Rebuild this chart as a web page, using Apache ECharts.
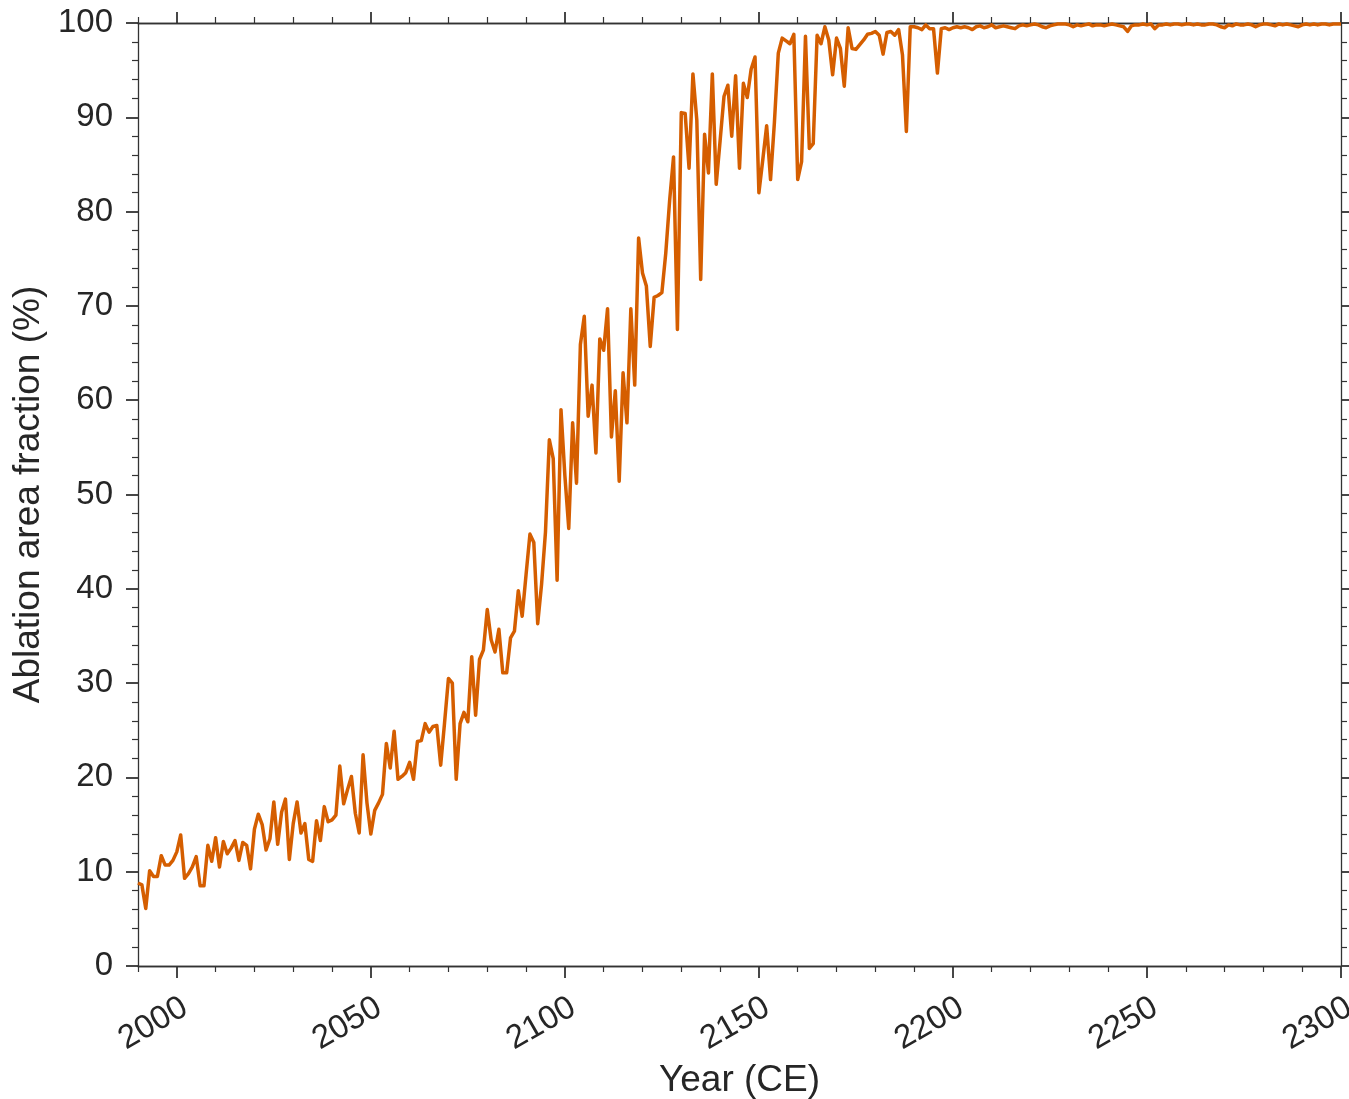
<!DOCTYPE html>
<html>
<head>
<meta charset="utf-8">
<script src="https://cdn.jsdelivr.net/npm/echarts@6/dist/echarts.min.js"></script>
<style>
html,body{margin:0;padding:0;background:#fff;overflow:hidden;}
#chart{width:1349px;height:1099px;}
</style>
</head>
<body>
<div id="chart"></div>
<script>
// ---- data ----
const startYear = 1990;
const vals1990s = [8.8, 8.6, 6.1, 10.1, 9.5, 9.5, 11.7, 10.7, 10.7, 11.2];
const vals2000s = [12.1, 13.9, 9.3, 9.8, 10.5, 11.6, 8.5, 8.5, 12.8, 11.1];
const vals2010s = [13.6, 10.5, 13.2, 11.9, 12.5, 13.3, 11.2, 13.1, 12.8, 10.3];
const vals2020s = [14.5, 16.1, 15.0, 12.3, 13.5, 17.4, 12.9, 16.3, 17.7, 11.3];
const vals2030s = [15.1, 17.4, 14.1, 15.1, 11.3, 11.1, 15.4, 13.3, 16.9, 15.3];
const vals2040s = [15.5, 16.0, 21.2, 17.2, 18.7, 20.1, 16.2, 14.1, 22.4, 17.3];
const vals2050s = [14.0, 16.5, 17.3, 18.2, 23.6, 21.0, 24.9, 19.8, 20.1, 20.5];
const vals2060s = [21.6, 19.8, 23.8, 23.9, 25.7, 24.8, 25.4, 25.5, 21.3, 25.8];
const vals2070s = [30.5, 30.0, 19.8, 25.7, 26.9, 25.9, 32.8, 26.6, 32.5, 33.5];
const vals2080s = [37.8, 34.6, 33.3, 35.7, 31.1, 31.1, 34.8, 35.5, 39.8, 37.1];
const vals2090s = [41.5, 45.8, 44.9, 36.3, 40.5, 46.0, 55.8, 53.8, 40.9, 59.0];
const vals2100s = [52.0, 46.4, 57.6, 51.2, 65.9, 68.9, 58.3, 61.6, 54.4, 66.5];
const vals2110s = [65.3, 69.7, 56.1, 61.0, 51.4, 62.9, 57.6, 69.7, 61.6, 77.2];
const vals2120s = [73.5, 72.1, 65.7, 70.9, 71.1, 71.4, 75.6, 81.2, 85.8, 67.5];
const vals2130s = [90.5, 90.4, 84.6, 94.6, 89.7, 72.8, 88.2, 84.1, 94.6, 82.9];
const vals2140s = [87.5, 92.2, 93.4, 88.0, 94.4, 84.6, 93.6, 92.1, 95.1, 96.4];
const vals2150s = [82.0, 85.5, 89.1, 83.4, 89.5, 96.8, 98.4, 98.1, 97.8, 98.8];
const vals2160s = [83.4, 85.3, 98.6, 86.7, 87.2, 98.7, 97.8, 99.6, 98.2, 94.5];
const vals2170s = [98.4, 97.3, 93.3, 99.5, 97.3, 97.2, 97.7, 98.2, 98.8, 98.9];
const vals2180s = [99.1, 98.7, 96.7, 99.0, 99.1, 98.7, 99.3, 96.6, 88.5, 99.6];
const vals2190s = [99.6, 99.5, 99.3, 99.8, 99.4, 99.4, 94.7, 99.4, 99.5, 99.3];
const vals2200s = [99.5, 99.6, 99.5, 99.6, 99.5, 99.3, 99.6, 99.7, 99.5, 99.6];
const vals2210s = [99.8, 99.5, 99.6, 99.7, 99.6, 99.5, 99.4, 99.7, 99.8, 99.7];
const vals2220s = [99.8, 99.9, 99.8, 99.6, 99.5, 99.7, 99.8, 99.9, 99.9, 99.9];
const vals2230s = [99.8, 99.6, 99.8, 99.7, 99.8, 99.9, 99.7, 99.8, 99.8, 99.7];
const vals2240s = [99.8, 99.9, 99.8, 99.7, 99.6, 99.1, 99.7, 99.8, 99.8, 99.9];
const vals2250s = [99.8, 99.9, 99.4, 99.8, 99.8, 99.9, 99.8, 99.9, 99.9, 99.8];
const vals2260s = [99.9, 99.9, 99.8, 99.9, 99.8, 99.8, 99.9, 99.9, 99.8, 99.6];
const vals2270s = [99.5, 99.8, 99.7, 99.9, 99.8, 99.8, 99.9, 99.8, 99.6, 99.8];
const vals2280s = [99.9, 99.9, 99.8, 99.7, 99.9, 99.8, 99.9, 99.8, 99.7, 99.6];
const vals2290s = [99.8, 99.9, 99.8, 99.9, 99.8, 99.9, 99.9, 99.8, 99.9, 99.9];
const vals2300 = [99.9];

const xMajorTicks = [2000, 2050, 2100, 2150, 2200, 2250, 2300];
const xMinorTicks = [1990, 2010, 2020, 2030, 2040, 2060, 2070, 2080, 2090, 2110, 2120, 2130, 2140, 2160, 2170, 2180, 2190, 2210, 2220, 2230, 2240, 2260, 2270, 2280, 2290];

const xTitle = 'Year (CE)';
const yTitle = 'Ablation area fraction (%)';

// ---- build ----
const values = [].concat(vals1990s, vals2000s, vals2010s, vals2020s, vals2030s, vals2040s,
  vals2050s, vals2060s, vals2070s, vals2080s, vals2090s, vals2100s, vals2110s, vals2120s,
  vals2130s, vals2140s, vals2150s, vals2160s, vals2170s, vals2180s, vals2190s, vals2200s,
  vals2210s, vals2220s, vals2230s, vals2240s, vals2250s, vals2260s, vals2270s, vals2280s,
  vals2290s, vals2300);
const seriesData = values.map((v, i) => [startYear + i, v]);

const FONT = '"Liberation Sans", Arial, Helvetica, sans-serif';
const AX = '#333333';
const TXT = '#262626';

function xAx(pos, ticks, len, width, labels) {
  return {
    type: 'value', position: pos, min: 1990, max: 2300,
    axisLine: { show: true, onZero: false, lineStyle: { color: AX, width: 1.3 } },
    axisTick: { show: true, inside: false, customValues: ticks, length: len, lineStyle: { color: AX, width: width } },
    axisLabel: labels ? {
      show: true, customValues: ticks, rotate: 30, margin: 25,
      verticalAlign: 'top',
      formatter: v => String(v),
      fontSize: 33, color: TXT, fontFamily: FONT
    } : { show: false },
    splitLine: { show: false }
  };
}

const chart = echarts.init(document.getElementById('chart'), null, { renderer: 'canvas' });
chart.setOption({
  animation: false,
  backgroundColor: '#ffffff',
  grid: { left: 138, right: 8, top: 23, bottom: 133, containLabel: false, outerBoundsMode: 'none' },
  xAxis: [
    Object.assign(xAx('bottom', xMajorTicks, 12, 1.8, true), {
      name: xTitle, nameLocation: 'middle', nameGap: 96,
      nameTextStyle: { fontSize: 37, color: TXT, fontFamily: FONT }
    }),
    xAx('bottom', xMinorTicks, 6, 1.2, false),
    xAx('top', xMajorTicks, 11, 1.8, false),
    xAx('top', xMinorTicks, 6, 1.2, false)
  ],
  yAxis: [
    {
      type: 'value', position: 'left', min: 0, max: 100, interval: 10,
      name: yTitle, nameLocation: 'middle', nameGap: 90, nameRotate: 90,
      nameTextStyle: { fontSize: 37, color: TXT, fontFamily: FONT },
      axisLine: { show: true, onZero: false, lineStyle: { color: AX, width: 1.3 } },
      axisTick: { show: true, inside: false, length: 12, lineStyle: { color: AX, width: 1.8 } },
      minorTick: { show: true, splitNumber: 5, length: 6, lineStyle: { color: AX, width: 1.2 } },
      axisLabel: { margin: 25, fontSize: 33, color: TXT, fontFamily: FONT },
      splitLine: { show: false }, minorSplitLine: { show: false }
    },
    {
      type: 'value', position: 'right', min: 0, max: 100, interval: 10,
      axisLine: { show: true, onZero: false, lineStyle: { color: AX, width: 1.3 } },
      axisTick: { show: true, inside: false, length: 11, lineStyle: { color: AX, width: 1.8 } },
      minorTick: { show: true, splitNumber: 5, length: 6, lineStyle: { color: AX, width: 1.2 } },
      axisLabel: { show: false },
      splitLine: { show: false }, minorSplitLine: { show: false }
    }
  ],
  series: [{
    type: 'line',
    xAxisIndex: 0, yAxisIndex: 0,
    data: seriesData,
    showSymbol: false,
    symbol: 'none',
    clip: false,
    lineStyle: { color: '#D55E00', width: 3.5, join: 'round' },
    emphasis: { disabled: true }
  }]
});
</script>
</body>
</html>
